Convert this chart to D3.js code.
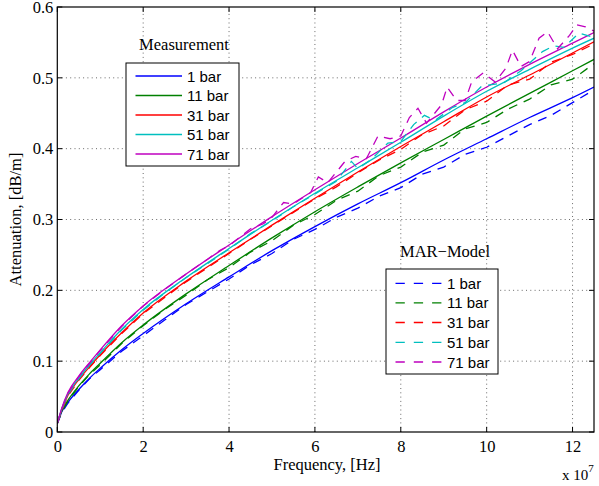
<!DOCTYPE html>
<html><head><meta charset="utf-8">
<script src="https://cdn.jsdelivr.net/npm/d3@7"></script>
<style>body{margin:0;background:#fff}</style>
</head><body>
<svg id="c" width="599" height="486"></svg>
<script>
const seriesNames = ["1 bar","11 bar","31 bar","51 bar","71 bar"];
const colors = ["#0000ff","#008000","#ff0000","#00bfbf","#bf00bf"];
const xTicks = [0,2,4,6,8,10,12];
const yTicks = [0,0.1,0.2,0.3,0.4,0.5,0.6];

// Measurement (solid), frequency in units of 1e7 Hz
const measX = [0,0.1,0.25,0.5,0.75,1,1.5,2,3,4,5,6,7,8,9,10,11,12,12.5];
const meas1  = [0.012,0.028,0.042,0.060,0.076,0.090,0.116,0.139,0.181,0.219,0.256,0.290,0.322,0.352,0.384,0.414,0.444,0.472,0.487];
const meas11 = [0.012,0.029,0.045,0.065,0.082,0.097,0.126,0.151,0.195,0.235,0.274,0.311,0.346,0.380,0.413,0.446,0.478,0.510,0.526];
const meas31 = [0.012,0.031,0.052,0.074,0.092,0.109,0.140,0.168,0.213,0.253,0.292,0.330,0.367,0.403,0.438,0.473,0.504,0.535,0.551];
const meas51 = [0.012,0.032,0.054,0.076,0.095,0.112,0.145,0.173,0.218,0.259,0.299,0.337,0.373,0.409,0.446,0.481,0.512,0.542,0.556];
const meas71 = [0.012,0.033,0.056,0.079,0.098,0.116,0.150,0.178,0.223,0.264,0.304,0.342,0.379,0.415,0.452,0.487,0.519,0.549,0.564];

// MAR-Model (dashed): [frequency (1e7 Hz), attenuation]
const mar1 = [[0,0.012],[0.1,0.027],[0.25,0.041],[0.5,0.059],[0.75,0.075],[1,0.088],[1.5,0.114],[2,0.136],[2.5,0.158],[3,0.18],[3.5,0.198],[4,0.216],[4.5,0.236],[5,0.252],[5.5,0.272],[6,0.286],[6.5,0.303],[7,0.316],[7.5,0.333],[8,0.345],[8.5,0.364],[9,0.374],[9.5,0.392],[10,0.402],[10.5,0.418],[11,0.434],[11.5,0.447],[12,0.465],[12.5,0.483]];
const mar11 = [[0,0.012],[0.1,0.028],[0.25,0.044],[0.5,0.064],[0.75,0.081],[1,0.095],[1.5,0.125],[2,0.150],[2.5,0.173],[3,0.193],[3.5,0.215],[4,0.232],[4.5,0.254],[5,0.270],[5.5,0.292],[6,0.307],[6.5,0.327],[7,0.340],[7.5,0.362],[8,0.374],[8.5,0.395],[9,0.405],[9.5,0.428],[10,0.437],[10.5,0.456],[11,0.47],[11.5,0.49],[12,0.498],[12.5,0.52]];
const mar31 = [[0,0.012],[0.1,0.030],[0.25,0.051],[0.5,0.073],[0.75,0.091],[1,0.108],[1.5,0.139],[2,0.167],[2.5,0.19],[3,0.212],[3.5,0.232],[4,0.252],[4.5,0.272],[5,0.291],[5.5,0.31],[6,0.329],[6.5,0.346],[7,0.366],[7.5,0.384],[8,0.399],[8.5,0.42],[9,0.432],[9.5,0.455],[10,0.467],[10.5,0.49],[11,0.498],[11.5,0.522],[12,0.533],[12.5,0.548]];
const mar51 = [[0,0.012],[0.1,0.031],[0.25,0.053],[0.5,0.075],[0.75,0.094],[1,0.111],[1.5,0.144],[2,0.172],[2.5,0.196],[3,0.218],[3.5,0.238],[4,0.258],[4.5,0.28],[5,0.298],[5.5,0.318],[6,0.336],[6.5,0.354],[6.85,0.382],[7,0.372],[7.3,0.384],[7.7,0.408],[8,0.410],[8.3,0.434],[8.55,0.447],[8.8,0.44],[9.2,0.458],[9.5,0.465],[9.88,0.488],[10.08,0.490],[10.4,0.493],[10.8,0.51],[11.3,0.537],[11.56,0.545],[11.8,0.543],[12.15,0.563],[12.5,0.557]];
const mar71 = [[0,0.012],[0.1,0.032],[0.25,0.055],[0.5,0.078],[0.75,0.097],[1,0.115],[1.5,0.149],[2,0.178],[2.5,0.201],[3,0.223],[3.5,0.244],[3.8,0.257],[4,0.263],[4.5,0.287],[4.8,0.294],[5,0.303],[5.27,0.324],[5.5,0.322],[5.9,0.338],[6.08,0.360],[6.3,0.352],[6.7,0.382],[6.95,0.389],[7.2,0.386],[7.47,0.418],[7.75,0.414],[8,0.418],[8.2,0.444],[8.4,0.457],[8.6,0.436],[8.95,0.462],[9.08,0.487],[9.3,0.468],[9.5,0.468],[9.65,0.494],[9.92,0.507],[10.2,0.494],[10.45,0.514],[10.6,0.539],[10.8,0.516],[11,0.523],[11.22,0.556],[11.42,0.565],[11.65,0.541],[11.93,0.560],[12.1,0.575],[12.3,0.572],[12.5,0.566]];

const measAll = [meas1,meas11,meas31,meas51,meas71];
const marAll = [mar1,mar11,mar31,mar51,mar71];

const svg = d3.select("#c");
const L = 57.3, R = 594, T = 7, B = 432;
const x = d3.scaleLinear().domain([0,12.5]).range([L,R]);
const y = d3.scaleLinear().domain([0,0.6]).range([B,T]);
const serif = "'Liberation Serif','Times New Roman',serif";
const sans = "'Liberation Sans',Arial,Helvetica,sans-serif";
const FS = 16.5;

// grid
const grid = svg.append("g").attr("stroke","#444").attr("stroke-width",0.8).attr("stroke-dasharray","1,3.3");
xTicks.filter(t=>t>0).forEach(t=>grid.append("line").attr("x1",x(t)).attr("x2",x(t)).attr("y1",B).attr("y2",T));
yTicks.filter(t=>t>0&&t<0.6).forEach(t=>grid.append("line").attr("x1",L).attr("x2",R).attr("y1",y(t)).attr("y2",y(t)));

svg.append("clipPath").attr("id","cp").append("rect").attr("x",L).attr("y",T).attr("width",R-L).attr("height",B-T);
const plot = svg.append("g").attr("clip-path","url(#cp)");
const smooth = d3.line().x(d=>x(d[0])).y(d=>y(d[1])).curve(d3.curveMonotoneX);
const jag = d3.line().x(d=>x(d[0])).y(d=>y(d[1]));

measAll.forEach((s,i)=>{
  plot.append("path").datum(measX.map((xv,j)=>[xv,s[j]])).attr("d",smooth)
    .attr("fill","none").attr("stroke",colors[i]).attr("stroke-width",1.3);
});
marAll.forEach((s,i)=>{
  plot.append("path").datum(s).attr("d",jag)
    .attr("fill","none").attr("stroke",colors[i]).attr("stroke-width",1.3).attr("stroke-dasharray","9,7");
});

// axes box
svg.append("rect").attr("x",L).attr("y",T).attr("width",R-L).attr("height",B-T)
  .attr("fill","none").attr("stroke","#000").attr("stroke-width",1.2);

// ticks (inside, all sides)
const tk = svg.append("g").attr("stroke","#000").attr("stroke-width",1);
xTicks.forEach(t=>{
  tk.append("line").attr("x1",x(t)).attr("x2",x(t)).attr("y1",B).attr("y2",B-5);
  tk.append("line").attr("x1",x(t)).attr("x2",x(t)).attr("y1",T).attr("y2",T+5);
});
yTicks.forEach(t=>{
  tk.append("line").attr("x1",L).attr("x2",L+5).attr("y1",y(t)).attr("y2",y(t));
  tk.append("line").attr("x1",R).attr("x2",R-5).attr("y1",y(t)).attr("y2",y(t));
});

// tick labels
const xAxis = d3.axisBottom(x).tickValues(xTicks).tickSize(0).tickPadding(8).tickFormat(d3.format("d"));
const gx = svg.append("g").attr("transform",`translate(0,${B})`).call(xAxis);
gx.select(".domain").remove();
gx.selectAll("text").attr("font-family",serif).attr("font-size",FS).attr("fill","#000");
const yAxis = d3.axisLeft(y).tickValues(yTicks).tickSize(0).tickPadding(4).tickFormat(d=>d===0?"0":d3.format(".1f")(d));
const gy = svg.append("g").attr("transform",`translate(${L},0)`).call(yAxis);
gy.select(".domain").remove();
gy.selectAll("text").attr("font-family",serif).attr("font-size",FS).attr("fill","#000");

// axis labels
svg.append("text").attr("x",327).attr("y",470).attr("text-anchor","middle")
  .attr("font-family",serif).attr("font-size",FS).text("Frequency, [Hz]");
svg.append("text").attr("transform",`translate(21,${(T+B)/2}) rotate(-90)`).attr("text-anchor","middle")
  .attr("font-family",serif).attr("font-size",FS).text("Attenuation, [dB/m]");
const ex = svg.append("text").attr("x",562).attr("y",480).attr("font-family",serif).attr("font-size",15);
ex.append("tspan").text("x 10");
ex.append("tspan").attr("dy",-8).attr("font-size",11).text("7");

// legends
function legend(x0,y0,w,h,rows,title,tx,ty,dashed){
  svg.append("text").attr("x",tx).attr("y",ty).attr("text-anchor","middle")
    .attr("font-family",serif).attr("font-size",FS).text(title);
  const g = svg.append("g");
  g.append("rect").attr("x",x0).attr("y",y0).attr("width",w).attr("height",h)
    .attr("fill","#fff").attr("stroke","#000").attr("stroke-width",1);
  seriesNames.forEach((n,i)=>{
    const yy = rows[i];
    g.append("line").attr("x1",x0+9.5).attr("x2",x0+56).attr("y1",yy).attr("y2",yy)
      .attr("stroke",colors[i]).attr("stroke-width",1.3).attr("stroke-dasharray",dashed?"9.3,9":null);
    g.append("text").attr("x",x0+61).attr("y",yy+5.5).attr("font-family",sans).attr("font-size",15).text(n);
  });
}
legend(126,63,113,103,[76,95.5,115,134.5,154],"Measurement",184,50,false);
legend(386,269,112,105,[283.3,302.8,322.5,342.3,362],"MAR\u2212Model",445,257,true);
</script>
</body></html>
